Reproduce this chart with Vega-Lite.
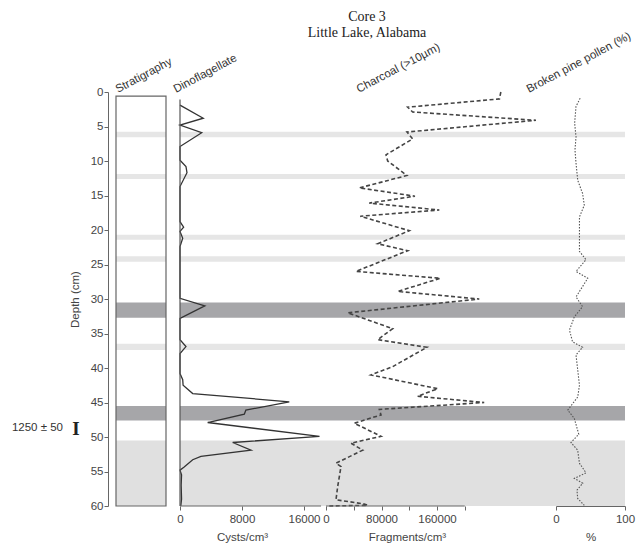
{
  "$schema": "https://vega.github.io/schema/vega-lite/v6.json",
  "padding": {"left": 11, "top": 10, "right": 5, "bottom": 4},
  "bounds": "flush",
  "spacing": 0,
  "title": {"text": ["Core 3", "Little Lake, Alabama"], "anchor": "middle", "frame": "group", "dx": 251, "offset": -10, "font": "Liberation Serif", "fontSize": 14, "fontWeight": "normal", "color": "#222", "lineHeight": 16},
  "datasets": {
    "one": [{}],
    "bands": [
      {"top": 5.75, "bottom": 6.55, "kind": "light"},
      {"top": 11.9, "bottom": 12.6, "kind": "light"},
      {"top": 20.7, "bottom": 21.4, "kind": "light"},
      {"top": 23.8, "bottom": 24.6, "kind": "light"},
      {"top": 30.5, "bottom": 32.7, "kind": "dark"},
      {"top": 36.5, "bottom": 37.4, "kind": "light"},
      {"top": 45.5, "bottom": 47.6, "kind": "dark"},
      {"top": 50.5, "bottom": 60, "kind": "stipple"}
    ],
    "dating": [{"depth": 48.7, "label": "1250 ± 50"}],
    "dino": [
      {"depth": 1.9, "value": 0}, {"depth": 3.8, "value": 3000}, {"depth": 4.8, "value": 0}, {"depth": 5.9, "value": 2800},
      {"depth": 7.9, "value": 0}, {"depth": 9.9, "value": 0}, {"depth": 10.8, "value": 770}, {"depth": 11.7, "value": 900},
      {"depth": 13.7, "value": 0}, {"depth": 18.8, "value": 0}, {"depth": 19.6, "value": 470}, {"depth": 20.2, "value": 0},
      {"depth": 21.2, "value": 350}, {"depth": 22.4, "value": 0}, {"depth": 29.9, "value": 0}, {"depth": 31.0, "value": 3200},
      {"depth": 32.8, "value": 0}, {"depth": 35.9, "value": 0}, {"depth": 36.9, "value": 770}, {"depth": 37.9, "value": 0},
      {"depth": 40.8, "value": 0}, {"depth": 41.7, "value": 350}, {"depth": 42.5, "value": 400}, {"depth": 43.7, "value": 1640},
      {"depth": 44.9, "value": 14100}, {"depth": 46.1, "value": 8500}, {"depth": 46.7, "value": 8300}, {"depth": 47.9, "value": 3570},
      {"depth": 49.9, "value": 18000}, {"depth": 50.8, "value": 6800}, {"depth": 51.9, "value": 9160}, {"depth": 52.8, "value": 2700},
      {"depth": 53.3, "value": 1640}, {"depth": 54.4, "value": 500}, {"depth": 54.8, "value": 0}, {"depth": 55.5, "value": 200},
      {"depth": 57.0, "value": 150}, {"depth": 59.0, "value": 200}, {"depth": 60.0, "value": 100}
    ],
    "charcoal": [
      {"depth": 0.0, "value": 252000}, {"depth": 1.0, "value": 250000}, {"depth": 2.2, "value": 117700}, {"depth": 2.9, "value": 124900},
      {"depth": 4.1, "value": 302600}, {"depth": 5.8, "value": 116700}, {"depth": 6.8, "value": 124900}, {"depth": 9.1, "value": 86500},
      {"depth": 10.0, "value": 88900}, {"depth": 12.1, "value": 116700}, {"depth": 13.9, "value": 48000}, {"depth": 15.1, "value": 128200},
      {"depth": 16.1, "value": 62400}, {"depth": 17.1, "value": 163300}, {"depth": 18.0, "value": 49400}, {"depth": 20.1, "value": 120000},
      {"depth": 22.0, "value": 74500}, {"depth": 23.0, "value": 117700}, {"depth": 26.0, "value": 43200}, {"depth": 27.0, "value": 164700},
      {"depth": 28.9, "value": 103300}, {"depth": 30.0, "value": 220900}, {"depth": 32.0, "value": 31300}, {"depth": 34.3, "value": 96100},
      {"depth": 35.9, "value": 74500}, {"depth": 37.0, "value": 145500}, {"depth": 39.8, "value": 96100}, {"depth": 41.0, "value": 64800},
      {"depth": 43.0, "value": 161000}, {"depth": 44.1, "value": 132000}, {"depth": 45.0, "value": 228000}, {"depth": 46.0, "value": 76800},
      {"depth": 46.8, "value": 79300}, {"depth": 48.0, "value": 40800}, {"depth": 49.9, "value": 79300}, {"depth": 50.9, "value": 36000},
      {"depth": 51.9, "value": 53000}, {"depth": 53.8, "value": 14400}, {"depth": 54.3, "value": 21600}, {"depth": 57.2, "value": 16800},
      {"depth": 59.1, "value": 14400}, {"depth": 59.7, "value": 55000}, {"depth": 59.9, "value": 60000}, {"depth": 60.0, "value": 3000}
    ],
    "pollen": [
      {"depth": 0.9, "value": 35}, {"depth": 2.1, "value": 29}, {"depth": 4.5, "value": 27}, {"depth": 6.5, "value": 29},
      {"depth": 8.4, "value": 27.5}, {"depth": 10.3, "value": 29}, {"depth": 12.8, "value": 31.5}, {"depth": 14.7, "value": 38.5},
      {"depth": 16.4, "value": 41}, {"depth": 18.1, "value": 34}, {"depth": 21.0, "value": 34}, {"depth": 23.1, "value": 34},
      {"depth": 24.3, "value": 43.5}, {"depth": 26.0, "value": 29}, {"depth": 27.0, "value": 46}, {"depth": 29.7, "value": 29},
      {"depth": 31.1, "value": 38.5}, {"depth": 32.6, "value": 26.5}, {"depth": 34.5, "value": 19.5}, {"depth": 36.2, "value": 24},
      {"depth": 37.0, "value": 38.5}, {"depth": 38.1, "value": 29}, {"depth": 40.3, "value": 31.5}, {"depth": 42.5, "value": 34},
      {"depth": 44.2, "value": 31.5}, {"depth": 46.1, "value": 17}, {"depth": 47.3, "value": 26.5}, {"depth": 49.6, "value": 33},
      {"depth": 50.8, "value": 21.7}, {"depth": 51.9, "value": 31.4}, {"depth": 53.8, "value": 34}, {"depth": 55.2, "value": 43.5},
      {"depth": 56.0, "value": 26.6}, {"depth": 56.7, "value": 38.7}, {"depth": 57.7, "value": 30.4}, {"depth": 58.9, "value": 31.4},
      {"depth": 59.9, "value": 41}
    ]
  },
  "hconcat": [
    {
      "width": 64, "height": 414,
      "layer": [
        {
          "data": {"name": "bands"},
          "mark": {"type": "rect"},
          "encoding": {
            "x": {"datum": 0, "type": "quantitative", "scale": {"domain": [0, 1.28], "nice": false, "zero": false}, "axis": null},
            "x2": {"datum": 1},
            "y": {"field": "top", "type": "quantitative", "scale": {"domain": [0, 60], "reverse": true, "nice": false, "zero": false},
                  "axis": {"title": "Depth (cm)", "offset": 8, "values": [0,5,10,15,20,25,30,35,40,45,50,55,60], "tickSize": 4, "labelPadding": 1, "titlePadding": 10}},
            "y2": {"field": "bottom"},
            "color": {"field": "kind", "type": "nominal", "scale": {"domain": ["light", "dark", "stipple"], "range": ["#e6e6e6", "#a6a6a9", "#e0e0e0"]}, "legend": null}
          }
        },
        {
          "data": {"name": "one"},
          "mark": {"type": "rect", "filled": false, "color": "#666", "strokeWidth": 1.2},
          "encoding": {
            "x": {"datum": 0, "type": "quantitative"},
            "x2": {"datum": 1},
            "y": {"datum": 0.6, "type": "quantitative", "axis": {"title": "Depth (cm)", "offset": 8, "values": [0,5,10,15,20,25,30,35,40,45,50,55,60], "tickSize": 4, "labelPadding": 1, "titlePadding": 10}},
            "y2": {"datum": 60}
          }
        },
        {
          "data": {"name": "one"},
          "mark": {"type": "text", "text": "Stratigraphy", "angle": -28, "align": "left", "baseline": "alphabetic", "dx": 1.3, "dy": 1.8, "font": "Liberation Sans", "fontSize": 11.5, "color": "#333"},
          "encoding": {
            "x": {"datum": 0, "type": "quantitative"},
            "y": {"datum": 0, "type": "quantitative", "axis": {"title": "Depth (cm)", "offset": 8, "values": [0,5,10,15,20,25,30,35,40,45,50,55,60], "tickSize": 4, "labelPadding": 1, "titlePadding": 10}}
          }
        },
        {
          "data": {"name": "dating"},
          "mark": {"type": "text", "align": "right", "baseline": "middle", "dx": -53, "font": "Liberation Sans", "fontSize": 11.5, "color": "#333"},
          "encoding": {
            "x": {"datum": 0, "type": "quantitative"},
            "y": {"field": "depth", "type": "quantitative", "axis": {"title": "Depth (cm)", "offset": 8, "values": [0,5,10,15,20,25,30,35,40,45,50,55,60], "tickSize": 4, "labelPadding": 1, "titlePadding": 10}},
            "text": {"field": "label"}
          }
        },
        {
          "data": {"name": "dating"},
          "mark": {"type": "text", "align": "center", "baseline": "middle", "dx": -40, "dy": 1, "font": "Liberation Serif", "fontWeight": "bold", "fontSize": 19, "color": "#222", "text": "I"},
          "encoding": {
            "x": {"datum": 0, "type": "quantitative"},
            "y": {"field": "depth", "type": "quantitative", "axis": {"title": "Depth (cm)", "offset": 8, "values": [0,5,10,15,20,25,30,35,40,45,50,55,60], "tickSize": 4, "labelPadding": 1, "titlePadding": 10}}
          }
        }
      ]
    },
    {
      "width": 146, "height": 414,
      "layer": [
        {
          "data": {"name": "bands"},
          "mark": {"type": "rect"},
          "encoding": {
            "y": {"field": "top", "type": "quantitative", "scale": {"domain": [0, 60], "reverse": true, "nice": false, "zero": false}, "axis": null},
            "y2": {"field": "bottom"},
            "color": {"field": "kind", "type": "nominal", "scale": {"domain": ["light", "dark", "stipple"], "range": ["#e6e6e6", "#a6a6a9", "#e0e0e0"]}, "legend": null}
          }
        },
        {
          "data": {"name": "dino"},
          "mark": {"type": "line", "color": "#333", "strokeWidth": 1.3},
          "encoding": {
            "x": {"field": "value", "type": "quantitative", "scale": {"domain": [0, 18840], "nice": false, "zero": false},
                  "axis": {"values": [0, 4000, 8000, 12000, 16000], "labelExpr": "datum.value % 8000 === 0 ? format(datum.value, 'd') : ''", "domain": false, "title": "Cysts/cm³", "titleX": 62, "titleY": 31, "titleBaseline": "middle", "titleAlign": "center", "tickSize": 4, "labelPadding": 3, "labelFlush": false, "labelOverlap": false}},
            "y": {"field": "depth", "type": "quantitative", "axis": null},
            "order": {"field": "depth", "type": "quantitative"}
          }
        },
        {
          "data": {"name": "one"},
          "mark": {"type": "rule", "color": "#555", "strokeWidth": 1.2},
          "encoding": {
            "x": {"datum": 0, "type": "quantitative"},
            "y": {"datum": 1.1, "type": "quantitative", "axis": null},
            "y2": {"datum": 60}
          }
        },
        {
          "data": {"name": "one"},
          "mark": {"type": "rule", "color": "#666", "strokeWidth": 1},
          "encoding": {
            "x": {"datum": 0, "type": "quantitative"},
            "x2": {"datum": 18200},
            "y": {"datum": 60, "type": "quantitative", "axis": null}
          }
        },
        {
          "data": {"name": "one"},
          "mark": {"type": "text", "text": "Dinoflagellate", "angle": -28, "align": "left", "baseline": "alphabetic", "dx": -4, "dy": -1, "font": "Liberation Sans", "fontSize": 11.5, "color": "#333"},
          "encoding": {
            "x": {"datum": 0, "type": "quantitative"},
            "y": {"datum": 0, "type": "quantitative", "axis": null}
          }
        }
      ]
    },
    {
      "width": 230, "height": 414,
      "layer": [
        {
          "data": {"name": "bands"},
          "mark": {"type": "rect"},
          "encoding": {
            "y": {"field": "top", "type": "quantitative", "scale": {"domain": [0, 60], "reverse": true, "nice": false, "zero": false}, "axis": null},
            "y2": {"field": "bottom"},
            "color": {"field": "kind", "type": "nominal", "scale": {"domain": ["light", "dark", "stipple"], "range": ["#e6e6e6", "#a6a6a9", "#e0e0e0"]}, "legend": null}
          }
        },
        {
          "data": {"name": "charcoal"},
          "mark": {"type": "line", "color": "#444", "strokeWidth": 1.6, "strokeDash": [4, 2.5]},
          "encoding": {
            "x": {"field": "value", "type": "quantitative", "scale": {"domain": [0, 331500], "nice": false, "zero": false},
                  "axis": {"values": [0, 40000, 80000, 120000, 160000, 200000], "labelExpr": "datum.value % 80000 === 0 ? format(datum.value, 'd') : ''", "domain": false, "title": "Fragments/cm³", "titleX": 81, "titleY": 31, "titleBaseline": "middle", "titleAlign": "center", "tickSize": 4, "labelPadding": 3, "labelFlush": false, "labelOverlap": false}},
            "y": {"field": "depth", "type": "quantitative", "axis": null},
            "order": {"field": "depth", "type": "quantitative"}
          }
        },
        {
          "data": {"name": "one"},
          "mark": {"type": "rule", "color": "#666", "strokeWidth": 1},
          "encoding": {
            "x": {"datum": 0, "type": "quantitative"},
            "x2": {"datum": 200000},
            "y": {"datum": 60, "type": "quantitative", "axis": null}
          }
        },
        {
          "data": {"name": "one"},
          "mark": {"type": "text", "text": "Charcoal (>10µm)", "angle": -28, "align": "left", "baseline": "alphabetic", "dx": 28.7, "dy": 16.4, "font": "Liberation Sans", "fontSize": 11.5, "color": "#333"},
          "encoding": {
            "x": {"datum": 0, "type": "quantitative"},
            "y": {"datum": 0, "type": "quantitative", "axis": null}
          }
        }
      ]
    },
    {
      "width": 69, "height": 414,
      "layer": [
        {
          "data": {"name": "bands"},
          "mark": {"type": "rect"},
          "encoding": {
            "y": {"field": "top", "type": "quantitative", "scale": {"domain": [0, 60], "reverse": true, "nice": false, "zero": false}, "axis": null},
            "y2": {"field": "bottom"},
            "color": {"field": "kind", "type": "nominal", "scale": {"domain": ["light", "dark", "stipple"], "range": ["#e6e6e6", "#a6a6a9", "#e0e0e0"]}, "legend": null}
          }
        },
        {
          "data": {"name": "pollen"},
          "mark": {"type": "line", "color": "#555", "strokeWidth": 1.1, "strokeDash": [1.5, 1.5]},
          "encoding": {
            "x": {"field": "value", "type": "quantitative", "scale": {"domain": [0, 100], "nice": false, "zero": false},
                  "axis": {"values": [0, 25, 50, 75, 100], "labelExpr": "datum.value % 50 === 0 ? datum.label : ''", "title": "%", "titleX": 34.5, "titleY": 31, "titleBaseline": "middle", "titleAlign": "center", "tickSize": 4, "labelPadding": 3, "labelFlush": false, "labelOverlap": false}},
            "y": {"field": "depth", "type": "quantitative", "axis": null},
            "order": {"field": "depth", "type": "quantitative"}
          }
        },
        {
          "data": {"name": "one"},
          "mark": {"type": "text", "text": "Broken pine pollen (%)", "angle": -28, "align": "left", "baseline": "alphabetic", "dx": -24.3, "dy": -11.8, "font": "Liberation Sans", "fontSize": 11.5, "color": "#333"},
          "encoding": {
            "x": {"datum": 0, "type": "quantitative"},
            "y": {"datum": 0, "type": "quantitative", "axis": null}
          }
        }
      ]
    }
  ],
  "config": {
    "view": {"stroke": null},
    "concat": {"spacing": 0},
    "axis": {"labelFont": "Liberation Sans", "titleFont": "Liberation Sans", "labelFontSize": 11.5, "titleFontSize": 11.5, "labelColor": "#444", "titleColor": "#444", "titleFontWeight": "normal", "domainColor": "#666", "tickColor": "#666", "grid": false}
  }
}
